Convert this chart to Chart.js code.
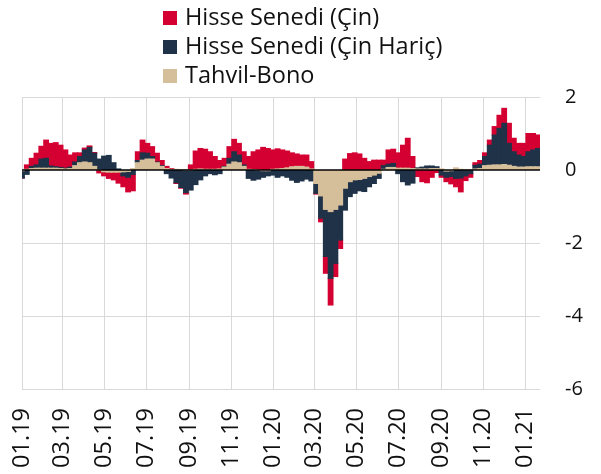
<!DOCTYPE html>
<html>
<head>
<meta charset="utf-8">
<script src="https://cdn.jsdelivr.net/npm/chart.js@4.4.1/dist/chart.umd.min.js"></script>
<style>
  html, body { margin: 0; padding: 0; background: #fff; }
  .wrap { position: relative; width: 601px; height: 474px; }
  .legend { position: absolute; left: 163px; top: 2px; font-family: 'Open Sans', sans-serif; font-size: 23.5px; color: #111; }
  .legend div { height: 29px; line-height: 29px; white-space: nowrap; }
  .legend span { display: inline-block; width: 14px; height: 14px; margin-right: 8px; vertical-align: 0px; }
</style>
</head>
<body>
<div class="wrap">
  <canvas id="chart" width="601" height="474"></canvas>
  <div class="legend"></div>
</div>
<script>
// weekly points, first week starts 01.01.2019
const startDate = new Date(2019, 0, 1);
const tickLabels = ['01.19', '03.19', '05.19', '07.19', '09.19', '11.19', '01.20', '03.20', '05.20', '07.20', '09.20', '11.20', '01.21'];

const tahvil = [
  -0.02, 0.02, 0.04, 0.05, 0.05, 0.05, 0.05, 0.05, 0.04, 0.03, 0.04, 0.12, 0.2, 0.22, 0.2, 0.1,
  0.0, -0.05, -0.06, -0.06, -0.06, -0.05, -0.04, 0.04, 0.2, 0.27, 0.3, 0.3, 0.2, 0.1, 0.04, 0.02,
  0.02, 0.01, 0.0, 0.0, 0.02, 0.03, 0.02, 0.02, 0.02, 0.03, 0.08, 0.16, 0.22, 0.2, 0.1, 0.02,
  0.01, 0.0, -0.02, -0.02, 0.02, 0.03, 0.04, 0.06, 0.09, 0.1, 0.1, 0.08, 0.03, -0.37, -0.71, -1.08,
  -1.14, -1.08, -0.96, -0.5, -0.32, -0.27, -0.26, -0.23, -0.18, -0.14, -0.09, 0.02, 0.07, 0.07, 0.05, 0.05,
  0.05, 0.04, 0.03, 0.03, 0.03, 0.04, 0.04, 0.03, -0.03, -0.02, 0.06, 0.02, 0.01, 0.01, 0.03, 0.04,
  0.12, 0.13, 0.14, 0.14, 0.15, 0.13, 0.1, 0.08, 0.08, 0.09, 0.09, 0.09
];
const cinHaric = [
  -0.2, -0.12, 0.06, 0.09, 0.25, 0.27, 0.06, 0.04, 0.03, 0.02, 0.04, 0.1, 0.17, 0.33, 0.42, 0.36,
  0.3, 0.38, 0.4, 0.2, 0.03, -0.11, -0.16, -0.12, 0.06, 0.2, 0.16, 0.07, 0.02, 0.02, -0.1, -0.22,
  -0.35, -0.48, -0.62, -0.55, -0.4, -0.27, -0.16, -0.1, -0.13, -0.1, 0.02, 0.16, 0.28, 0.21, 0.04, -0.23,
  -0.28, -0.25, -0.18, -0.14, -0.14, -0.2, -0.16, -0.2, -0.28, -0.34, -0.3, -0.25, -0.3, -0.27, -0.61, -1.29,
  -1.83, -1.48, -0.96, -0.6, -0.41, -0.37, -0.31, -0.36, -0.28, -0.23, -0.14, 0.1, 0.09, 0.11, -0.1, -0.32,
  -0.41, -0.36, 0.03, 0.05, 0.08, 0.07, 0.05, -0.14, -0.17, -0.16, -0.23, -0.22, -0.16, -0.1, 0.1, 0.12,
  0.25, 0.55, 0.82, 1.0, 1.13, 0.6, 0.4, 0.33, 0.29, 0.41, 0.46, 0.5
];
const cin = [
  0.0, 0.12, 0.22, 0.32, 0.35, 0.5, 0.62, 0.66, 0.61, 0.5, 0.33, 0.25, 0.1, 0.05, 0.04, 0.02,
  -0.08, -0.11, -0.17, -0.21, -0.3, -0.3, -0.4, -0.45, 0.24, 0.35, 0.27, 0.27, 0.24, 0.14, 0.06, 0.02,
  -0.02, -0.02, -0.04, 0.14, 0.5, 0.56, 0.55, 0.48, 0.35, 0.23, 0.22, 0.32, 0.34, 0.32, 0.36, 0.35,
  0.49, 0.55, 0.62, 0.59, 0.53, 0.55, 0.51, 0.46, 0.38, 0.34, 0.31, 0.33, 0.2, -0.02, -0.1, -0.46,
  -0.73, -0.36, -0.23, 0.3, 0.45, 0.47, 0.44, 0.32, 0.23, 0.27, 0.27, 0.15, 0.39, 0.39, 0.42, 0.63,
  0.82, 0.33, -0.18, -0.32, -0.35, -0.2, -0.07, -0.06, -0.12, -0.2, -0.23, -0.38, -0.13, -0.1, 0.07, 0.1,
  0.1, 0.14, 0.23, 0.36, 0.41, 0.55, 0.37, 0.32, 0.36, 0.5, 0.45, 0.37
];

const DAY = 24 * 3600 * 1000;
const tickDays = tickLabels.map(l => {
  const [m, y] = l.split('.');
  return Math.round((new Date(2000 + +y, +m - 1, 1) - startDate) / DAY);
});

const toPoints = vals => vals.map((v, i) => ({ x: i * 7, y: v }));

// stacking order from zero outwards: Tahvil, Çin Hariç, Çin
const series = [
  { label: 'Tahvil-Bono', data: tahvil, color: '#d5be9a' },
  { label: 'Hisse Senedi (Çin Hariç)', data: cinHaric, color: '#1f3248' },
  { label: 'Hisse Senedi (Çin)', data: cin, color: '#d50032' }
];

const legend = document.querySelector('.legend');
legend.innerHTML = series.slice().reverse()
  .map(s => `<div><span style="background:${s.color}"></span>${s.label}</div>`).join('');

const zeroLine = {
  id: 'zeroLine',
  afterDatasetsDraw(chart) {
    const { ctx, chartArea, scales } = chart;
    const y = scales.y.getPixelForValue(0);
    ctx.save();
    ctx.strokeStyle = '#000';
    ctx.lineWidth = 1.5;
    ctx.beginPath();
    ctx.moveTo(chartArea.left, y);
    ctx.lineTo(chartArea.right, y);
    ctx.stroke();
    ctx.restore();
  }
};

new Chart(document.getElementById('chart'), {
  type: 'bar',
  data: {
    datasets: series.map(s => ({
      label: s.label,
      data: toPoints(s.data),
      backgroundColor: s.color,
      borderWidth: 0,
      barPercentage: 1,
      categoryPercentage: 1,
      inflateAmount: 0.5
    }))
  },
  options: {
    responsive: false,
    animation: false,
    layout: { padding: { top: 97, left: 22, right: 0, bottom: 0 } },
    plugins: { legend: { display: false }, tooltip: { enabled: false } },
    scales: {
      x: {
        type: 'linear',
        stacked: true,
        min: 0,
        max: 752,
        offset: false,
        grid: { color: '#d9d9d9', drawTicks: false, offset: false },
        border: { display: false },
        afterBuildTicks: s => { s.ticks = tickDays.map(v => ({ value: v })); },
        afterFit: s => { s.height = 85; },
        ticks: {
          autoSkip: false,
          maxRotation: 90,
          minRotation: 90,
          padding: 19,
          color: '#111',
          font: { family: "'Open Sans', sans-serif", size: 23.5 },
          callback: (v, i) => tickLabels[i]
        }
      },
      y: {
        position: 'right',
        stacked: true,
        min: -6,
        max: 2,
        grid: {
          drawTicks: false,
          color: c => c.tick && c.tick.value === 0 ? 'rgba(0,0,0,0)' : '#d9d9d9'
        },
        border: { display: false },
        afterFit: s => { s.width = 61; },
        ticks: { stepSize: 2, padding: 25, color: '#111', font: { family: "'Open Sans', sans-serif", size: 20 } }
      }
    }
  },
  plugins: [zeroLine]
});
</script>
</body>
</html>
